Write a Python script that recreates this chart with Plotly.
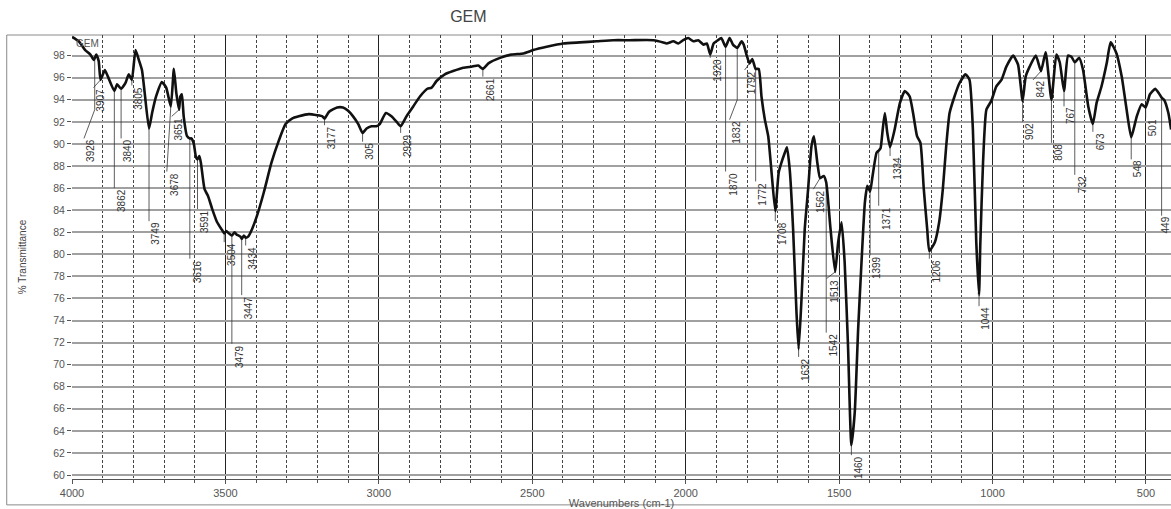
import numpy as np
import plotly.graph_objects as go

# FTIR spectrum of sample GEM: wavenumber (cm-1) and % transmittance
wavenumber = [
    4000, 3978, 3957, 3940, 3929, 3921, 3913, 3907, 3893, 3883, 3862, 3853, 3840,
    3826, 3815, 3805, 3793, 3782, 3772, 3763, 3749, 3739, 3726, 3707, 3693, 3678,
    3668, 3660, 3651, 3647, 3642, 3636, 3625, 3616, 3611, 3603, 3596, 3591, 3585,
    3580, 3568, 3557, 3543, 3527, 3511, 3504, 3497, 3489, 3479, 3470, 3464, 3451,
    3447, 3440, 3434, 3426, 3413, 3397, 3375, 3350, 3326, 3304, 3283, 3261, 3228,
    3201, 3184, 3177, 3163, 3136, 3117, 3100, 3084, 3067, 3053, 3040, 3024, 3008,
    2997, 2977, 2959, 2942, 2929, 2910, 2888, 2866, 2842, 2828, 2812, 2785, 2758,
    2725, 2698, 2676, 2661, 2643, 2605, 2567, 2529, 2497, 2453, 2399, 2345, 2290,
    2236, 2182, 2105, 2073, 2062, 2040, 2024, 2008, 1992, 1975, 1959, 1942, 1931,
    1920, 1909, 1895, 1884, 1870, 1857, 1846, 1832, 1818, 1811, 1802, 1792, 1783,
    1772, 1762, 1753, 1742, 1731, 1721, 1708, 1697, 1688, 1677, 1670, 1661, 1650,
    1639, 1632, 1623, 1612, 1601, 1590, 1582, 1571, 1562, 1550, 1542, 1528, 1513,
    1503, 1492, 1482, 1471, 1460, 1449, 1438, 1427, 1416, 1408, 1399, 1391, 1378,
    1371, 1365, 1358, 1351, 1343, 1334, 1319, 1302, 1286, 1270, 1259, 1246, 1235,
    1224, 1213, 1206, 1188, 1174, 1162, 1151, 1140, 1124, 1108, 1088, 1075, 1064,
    1053, 1044, 1040, 1031, 1020, 1004, 988, 971, 955, 933, 917, 902, 892, 879,
    859, 842, 827, 808, 792, 781, 767, 754, 743, 732, 718, 705, 688, 673, 661,
    645, 628, 615, 596, 579, 563, 548, 530, 514, 501, 487, 470, 458, 449, 441,
    427, 418,
]
transmittance = [
    99.7, 99.3, 98.5, 98.1, 97.6, 98.1, 97.5, 95.8, 96.7, 96.1, 94.8, 95.4, 95.0,
    95.5, 96.3, 95.8, 98.5, 97.6, 96.7, 94.6, 91.4, 92.8, 94.3, 95.6, 95.1, 93.4,
    96.8, 94.6, 93.1, 94.3, 94.5, 92.5, 90.7, 90.5, 90.5, 90.0, 88.8, 88.6, 88.9,
    88.3, 85.9, 85.3, 84.1, 82.9, 82.2, 81.9, 82.1, 81.9, 81.7, 82.0, 81.8, 81.6,
    81.4, 81.7, 81.5, 81.6, 82.3, 83.5, 85.6, 88.3, 90.3, 91.8, 92.3, 92.5, 92.7,
    92.6, 92.5, 92.3, 92.9, 93.3, 93.3, 93.0, 92.5, 91.8, 91.0, 91.4, 91.6, 91.6,
    91.8, 92.8, 92.5, 92.0, 91.6, 92.5, 93.4, 94.3, 95.0, 95.1, 95.7, 96.3, 96.6,
    96.9, 97.0, 97.1, 96.8, 97.3, 97.8, 98.1, 98.2, 98.5, 98.8, 99.1, 99.2, 99.3,
    99.4, 99.4, 99.4, 99.2, 99.1, 99.3, 99.1, 99.4, 99.6, 99.3, 99.4, 99.0, 99.1,
    98.1, 99.1, 99.4, 99.6, 98.8, 99.6, 99.0, 98.7, 99.3, 99.0, 98.1, 97.3, 97.7,
    96.8, 96.8, 94.3, 92.2, 90.7, 87.7, 83.9, 87.4, 88.3, 89.2, 89.7, 87.7, 82.3,
    74.8, 71.4, 75.7, 82.3, 85.9, 89.8, 90.7, 88.3, 86.9, 87.1, 86.5, 82.3, 78.4,
    81.1, 82.9, 79.3, 71.7, 62.7, 65.7, 73.2, 79.3, 84.7, 86.2, 85.7, 87.1, 89.2,
    89.4, 89.6, 91.3, 92.8, 91.0, 89.7, 91.3, 93.7, 94.8, 94.3, 92.8, 90.7, 90.1,
    85.9, 82.3, 80.3, 81.1, 82.9, 85.9, 89.8, 92.8, 94.3, 95.5, 96.3, 95.8, 91.3,
    81.1, 76.3, 80.8, 88.3, 93.1, 93.9, 95.2, 95.8, 97.0, 98.0, 97.2, 93.9, 96.1, 97.0,
    98.0, 96.6, 98.3, 94.0, 98.1, 97.4, 94.8, 98.0, 97.9, 97.4, 97.8, 96.7, 93.4, 91.8, 93.7,
    95.2, 97.3, 99.2, 98.2, 96.1, 93.1, 90.6, 92.5, 93.6, 93.3, 94.5, 95.0, 94.6, 94.2, 94.0,
    92.8, 91.3,
]

# Peak picks (cm-1) and their printed labels
peak_wn = [3926, 3907, 3862, 3840, 3805, 3749, 3678, 3651, 3616, 3591, 3504, 3479,
           3447, 3434, 3177, 3053, 2929, 2661, 1920, 1870, 1832, 1792, 1772, 1708,
           1632, 1562, 1542, 1513, 1460, 1399, 1371, 1334, 1206, 1044, 902, 842,
           808, 767, 732, 673, 548, 501, 449]
peak_text = ["3926", "3907", "3862", "3840", "3805", "3749", "3678", "3651", "3616",
             "3591", "3504", "3479", "3447", "3434", "3177", "305", "2929", "2661",
             "1920", "1870", "1832", "1792", "1772", "1708", "1632", "1562", "1542",
             "1513", "1460", "1399", "1371", "1334", "1206", "1044", "902", "842",
             "808", "767", "732", "673", "548", "501", "449"]

# Leader-line geometry for each pick: (knee %T or None, end wavenumber, end %T)
leader = [
    (93.1, 3961, 90.5), (None, 3930, 95.1), (None, 3862, 86.0), (None, 3840, 90.5),
    (None, 3805, 95.3), (None, 3749, 83.0), (None, 3691, 87.5), (None, 3675, 92.5),
    (None, 3616, 79.6), (None, 3591, 84.1), (None, 3504, 81.1), (None, 3479, 71.9),
    (None, 3447, 76.3), (None, 3434, 80.8), (None, 3177, 91.7), (None, 3053, 90.2),
    (None, 2929, 91.0), (None, 2661, 96.1), (None, 1920, 97.8), (None, 1870, 87.5),
    (94.0, 1857, 92.2), (None, 1808, 96.7), (None, 1772, 86.6), (None, 1708, 83.0),
    (None, 1632, 70.7), (None, 1584, 85.9), (None, 1542, 72.9), (None, 1541, 77.8),
    (None, 1460, 61.8), (None, 1399, 79.9), (None, 1371, 84.4), (None, 1334, 88.9),
    (None, 1206, 79.6), (None, 1044, 75.3), (None, 902, 92.0), (None, 868, 95.8),
    (None, 808, 90.1), (None, 767, 93.4), (None, 732, 87.2), (None, 673, 91.1),
    (None, 548, 88.6), (None, 501, 92.35), (None, 449, 83.5),
]
LABEL_SHIFT = 23      # label sits a few pixels to the right of its leader end
LABEL_MIN_WN = 437    # keep the last label inside the page edge

x_ticks = [4000, 3500, 3000, 2500, 2000, 1500, 1000, 500]
y_ticks = list(range(60, 100, 2))

wn_arr = np.array(wavenumber, dtype=float)
t_arr = np.array(transmittance, dtype=float)
order = np.argsort(wn_arr)

fig = go.Figure()

# leader lines, starting on the spectrum at each pick
lx, ly = [], []
for wn, (knee, ex, ey) in zip(peak_wn, leader):
    t0 = float(np.interp(wn, wn_arr[order], t_arr[order]))
    lx += [wn]
    ly += [t0]
    if knee is not None:
        lx += [wn]
        ly += [knee]
    lx += [ex, None]
    ly += [ey, None]
fig.add_trace(go.Scatter(x=lx, y=ly, mode="lines",
                         line=dict(color="#333333", width=0.8),
                         hoverinfo="skip", showlegend=False))

fig.add_trace(go.Scatter(x=wavenumber, y=transmittance, mode="lines",
                         line=dict(color="#111111", width=2.6, shape="spline",
                                   smoothing=0.5),
                         showlegend=False))

label_font = dict(family="Liberation Sans Narrow, Arial Narrow, Liberation Sans, Arial",
                  size=10, color="#333333")
for txt, (knee, ex, ey) in zip(peak_text, leader):
    fig.add_annotation(x=max(ex - LABEL_SHIFT, LABEL_MIN_WN), y=ey, text=txt,
                       textangle=-90, showarrow=False, xanchor="center",
                       yanchor="top", borderpad=0, font=label_font)

# sample name inside the plot
fig.add_annotation(x=3990, y=99.1, text="GEM", showarrow=False, xanchor="left",
                   yanchor="middle", borderpad=0,
                   font=dict(family="Liberation Sans, Arial", size=10, color="#555555"))

# outer frame around the chart
fig.add_shape(type="rect", xref="paper", yref="paper", x0=-0.0594, x1=1.05,
              y0=-0.0583, y1=1.0, line=dict(color="#8a8a8a", width=1), layer="below")

axis_font = dict(family="Liberation Sans, Arial", size=11, color="#555555")
fig.update_layout(
    width=1171, height=509,
    margin=dict(l=72, r=0, t=35, b=28),
    paper_bgcolor="white", plot_bgcolor="white",
    title=dict(text="GEM", x=0.4, xanchor="center", y=0.967, yanchor="middle",
               font=dict(family="Liberation Sans, Arial", size=16, color="#444444")),
    xaxis=dict(
        range=[4000, 418.4], tickmode="array", tickvals=x_ticks,
        ticks="outside", ticklen=4, tickcolor="#555555",
        showgrid=True, gridcolor="#222222", gridwidth=1,
        minor=dict(dtick=100, tick0=0, ticks="outside", ticklen=3, tickcolor="#555555",
                   showgrid=True, gridcolor="#444444", gridwidth=1, griddash="3px,2px"),
        showline=True, linecolor="#555555", linewidth=1,
        zeroline=False, tickfont=axis_font,
        title=dict(text="Wavenumbers (cm-1)", font=axis_font, standoff=2),
    ),
    yaxis=dict(
        range=[59.64, 99.87], tickmode="array", tickvals=y_ticks,
        ticks="outside", ticklen=4, tickcolor="#555555",
        showgrid=True, gridcolor="#a0a0a0", gridwidth=1.6,
        showline=False, zeroline=False,
        tickfont=dict(family="Liberation Sans, Arial", size=10.5, color="#555555"),
        title=dict(text="% Transmittance",
                   font=dict(family="Liberation Sans, Arial", size=10, color="#444444"),
                   standoff=24),
    ),
)

fig.write_html("out.html")
